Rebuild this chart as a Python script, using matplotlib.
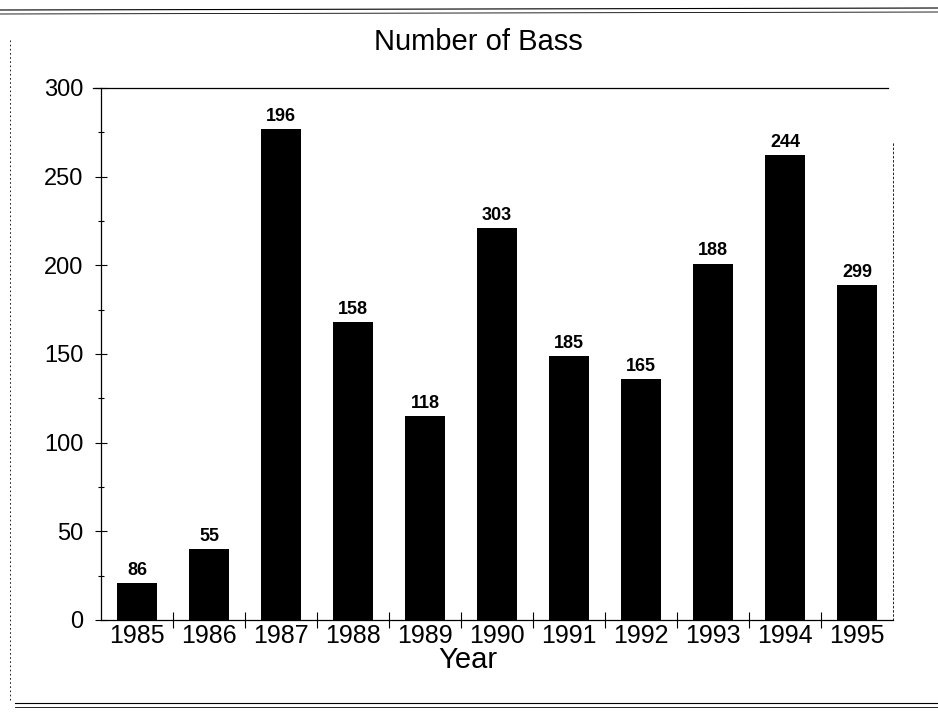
import numpy as np
import matplotlib
matplotlib.use('Agg')
import matplotlib.pyplot as plt
from matplotlib.lines import Line2D
from matplotlib.ticker import MultipleLocator

# 数据
years = ['1985', '1986', '1987', '1988', '1989', '1990', '1991', '1992', '1993', '1994', '1995']
heights = [21, 40, 277, 168, 115, 221, 149, 136, 201, 262, 189]
bar_labels = ['86', '55', '196', '158', '118', '303', '185', '165', '188', '244', '299']

plt.rcParams['font.family'] = ['Liberation Sans', 'DejaVu Sans']

fig = plt.figure(figsize=(9.38, 7.18), dpi=100)
ax = fig.add_axes([101/938, 1-620/718, 792/938, 532/718])

x = np.arange(len(years))
ax.bar(x, heights, width=0.56, color='black')
for xi, h, lab in zip(x, heights, bar_labels):
    ax.annotate(lab, (xi, h), xytext=(0, 3), textcoords='offset points',
                ha='center', va='bottom', fontsize=13, fontweight='bold')

ax.set_xlim(-0.5, len(years) - 0.5)
ax.set_ylim(0, 300)
ax.yaxis.set_major_locator(MultipleLocator(50))
ax.yaxis.set_minor_locator(MultipleLocator(25))
ax.set_xticks(x)
ax.set_xticklabels(years, fontsize=18)
ax.set_xticks(x[:-1] + 0.5, minor=True)
ax.tick_params(axis='x', which='major', length=0, pad=3)
ax.tick_params(axis='x', which='minor', direction='inout', length=12, width=0.8)
ax.tick_params(axis='y', which='major', direction='inout', length=9, width=0.8, labelsize=17, pad=8)
ax.tick_params(axis='y', which='minor', direction='inout', length=5, width=0.8)

for s in ['left', 'bottom']:
    ax.spines[s].set_linewidth(0.9)
ax.spines['top'].set_visible(False)
ax.spines['right'].set_linestyle((0, (2, 3)))
ax.spines['right'].set_linewidth(0.6)
ax.spines['right'].set_bounds(0, 270)
ax.axhline(300, xmin=-0.01, xmax=0.994, color='black', lw=0.9, clip_on=False)

fig.text(468/938, 1-660/718, 'Year', ha='center', va='center', fontsize=21)
fig.text(478/938, 1-42/718, 'Number of Bass', ha='center', va='center', fontsize=21)

# 扫描页的边框线
fig.add_artist(Line2D([0, 1], [1-10/718, 1-8/718], color='black', lw=0.8))
fig.add_artist(Line2D([0, 1], [1-14/718, 1-12/718], color='black', lw=0.6))
fig.add_artist(Line2D([15/938, 1], [1-703/718, 1-703/718], color='black', lw=0.8))
fig.add_artist(Line2D([15/938, 1], [1-707/718, 1-707/718], color='black', lw=0.6))
fig.add_artist(Line2D([10/938, 10/938], [1-700/718, 1-40/718], color='black', lw=0.6, ls=(0, (2, 3))))

fig.savefig('out.png', dpi=100)
